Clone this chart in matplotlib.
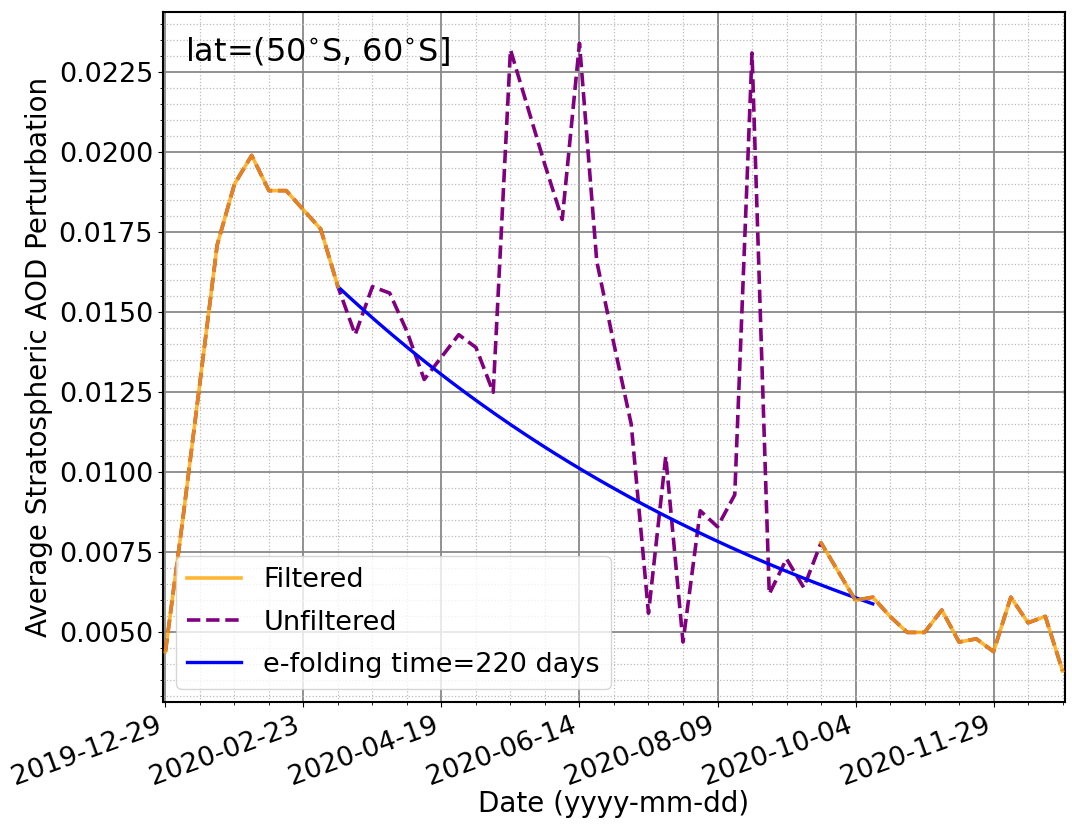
import numpy as np
import pandas as pd
import matplotlib
matplotlib.use('Agg')
import matplotlib.pyplot as plt
import matplotlib.dates as mdates
from matplotlib.ticker import MultipleLocator, FormatStrFormatter

# weekly zonal-mean AOD perturbation, 50S-60S band
dates = pd.date_range('2019-12-29', periods=53, freq='7D')
unfiltered = [0.0044, 0.0085, 0.0128, 0.0171, 0.0190, 0.0199, 0.0188, 0.0188,
              0.0182, 0.0176, 0.0158, 0.0143, 0.0158, 0.0156, 0.0144, 0.0129,
              0.0136, 0.0143, 0.0139, 0.0125, 0.0232, 0.0214, 0.0196, 0.0179,
              0.0234, 0.0166, 0.0140, 0.0115, 0.0056, 0.0105, 0.0047, 0.0088,
              0.0083, 0.0093, 0.0231, 0.0062, 0.0073, 0.0064, 0.0078, 0.0069,
              0.0060, 0.0061, 0.0055, 0.0050, 0.0050, 0.0057, 0.0047, 0.0048,
              0.0044, 0.0061, 0.0053, 0.0055, 0.0038]
# weeks removed by the filter
removed_weeks = (11, 37)

# exponential decay fit
fit_weeks = (10, 41)
fit_amp = 0.0158
efold_days = 220

filtered = np.array(unfiltered, dtype=float)
filtered[removed_weeks[0]:removed_weeks[1] + 1] = np.nan

t_fit = pd.date_range(dates[fit_weeks[0]], dates[fit_weeks[1]], freq='D')
days = (t_fit - t_fit[0]).days.values
fit = fit_amp * np.exp(-days / efold_days)

fig, ax = plt.subplots(figsize=(10.72, 8.32), dpi=100)
fig.subplots_adjust(left=0.152, right=0.9935, bottom=0.156, top=0.9856)

ax.plot(dates, filtered, color='orange', lw=2.6, alpha=0.8, zorder=4, label='Filtered')
ax.plot(dates, unfiltered, color='purple', lw=2.6, ls='--', zorder=3, label='Unfiltered')
ax.plot(t_fit, fit, color='blue', lw=2.4, zorder=3,
        label='e-folding time=%d days' % efold_days)

ax.set_xlim(dates[0] - pd.Timedelta(days=1), dates[-1] + pd.Timedelta(days=1))
ax.set_xticks(dates[::8])
ax.set_xticks(dates[::2], minor=True)
ax.xaxis.set_major_formatter(mdates.DateFormatter('%Y-%m-%d'))
ax.yaxis.set_major_locator(MultipleLocator(0.0025))
ax.yaxis.set_minor_locator(MultipleLocator(0.0005))
ax.yaxis.set_major_formatter(FormatStrFormatter('%.4f'))

ax.grid(which='major', color='#888888', lw=1.3)
ax.grid(which='minor', color='#bbbbbb', lw=0.9, ls=':')
ax.set_axisbelow(True)

ax.tick_params(labelsize=19.5)
plt.setp(ax.get_xticklabels(), rotation=20, ha='right')
for s in ax.spines.values():
    s.set_linewidth(1.5)

ax.set_xlabel('Date (yyyy-mm-dd)', fontsize=20, labelpad=0)
ax.set_ylabel('Average Stratospheric AOD Perturbation', fontsize=20)
ax.text(0.024, 0.967, r'lat=(50$^{\circ}$S, 60$^{\circ}$S]', transform=ax.transAxes,
        va='top', ha='left', fontsize=23)
ax.legend(loc='lower left', fontsize=19.5, labelspacing=0.6)

fig.savefig('out.png', dpi=100)
